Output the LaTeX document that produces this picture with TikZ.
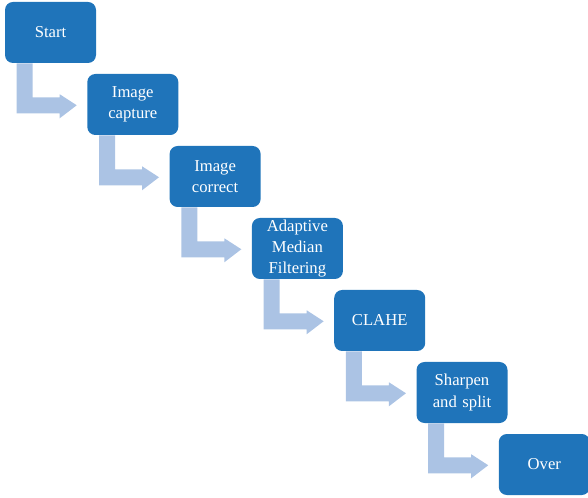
\documentclass[tikz,border=0pt]{standalone}
\usepackage{fontspec}
\setmainfont{Liberation Serif}
\definecolor{boxblue}{HTML}{1F74BA}
\definecolor{arrblue}{HTML}{ABC3E4}
\begin{document}
\begin{tikzpicture}[x=0.75pt,y=-0.75pt,
  stepbox/.style={draw=none,fill=boxblue,rounded corners=6pt,minimum width=68.25pt,minimum height=45.75pt,
    inner sep=0pt,align=center,text=white,font=\fontsize{12.5}{16}\selectfont,text width=64pt},
  arr/.style={fill=arrblue,draw=none}]
\useasboundingbox (0,0) rectangle (588,498);
\def\dx{82.3}
\def\dy{72}
\foreach \i/\t in {0/Start,1/Image\\capture,2/Image\\correct,3/Adaptive\\Median\\Filtering,4/CLAHE,5/Sharpen\\and split,6/Over}{
  \node[stepbox] (b\i) at ({50.5+\dx*\i},{32.5+\dy*\i}) {\t};
}
\foreach \i in {0,...,5}{
  \fill[arr] ([xshift=9pt]b\i.south west) -- ++(16,0) -- ++(0,34) -- ++(27,0) -- ++(0,-3)
    -- ++(17,11) -- ++(-17,13) -- ++(0,-5) -- ++(-43,0) -- cycle;
}
\end{tikzpicture}
\end{document}
